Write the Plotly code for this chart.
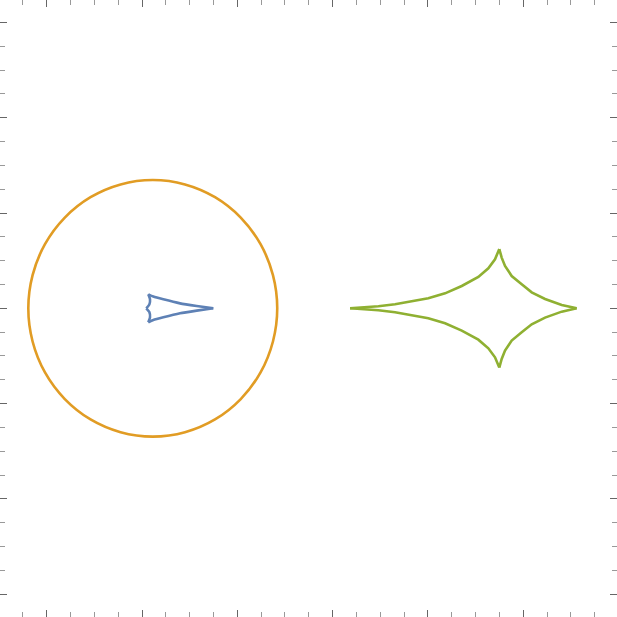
import plotly.graph_objects as go

# values (1 unit = one major tick)
circle_x = [2.419, 2.374, 2.244, 2.036, 1.766, 1.451, 1.113, 0.775, 0.460, 0.190, -0.018, -0.148, -0.193,
            -0.148, -0.018, 0.190, 0.460, 0.775, 1.113, 1.451, 1.766, 2.036, 2.244, 2.374, 2.419]
circle_y = [0, 0.348, 0.673, 0.952, 1.166, 1.300, 1.346, 1.300, 1.166, 0.952, 0.673, 0.348, 0,
            -0.348, -0.673, -0.952, -1.166, -1.300, -1.346, -1.300, -1.166, -0.952, -0.673, -0.348, 0]

# small caustic, drawn cusp to cusp
blue_x = [1.748, 1.574, 1.399, 1.224, 1.119, 1.066, None,
          1.066, 1.084, 1.077, 1.045, None,
          1.045, 1.077, 1.084, 1.066, None,
          1.066, 1.119, 1.224, 1.399, 1.574, 1.748]
blue_y = [0, 0.024, 0.052, 0.094, 0.123, 0.147, None,
          0.147, 0.095, 0.040, 0, None,
          0, -0.040, -0.095, -0.147, None,
          -0.147, -0.123, -0.094, -0.052, -0.024, 0]

# large caustic, drawn cusp to cusp
green_x = [3.183, 3.305, 3.480, 3.655, 3.830, 4.004, 4.180, 4.355, 4.529, 4.634, 4.704, 4.749, None,
           4.749, 4.774, 4.809, 4.879, 4.984, 5.089, 5.229, 5.404, 5.561, None,
           5.561, 5.404, 5.229, 5.089, 4.984, 4.879, 4.809, 4.774, 4.749, None,
           4.749, 4.704, 4.634, 4.529, 4.355, 4.180, 4.004, 3.830, 3.655, 3.480, 3.305, 3.183]
green_y = [0, 0.007, 0.021, 0.042, 0.070, 0.105, 0.157, 0.234, 0.329, 0.420, 0.514, 0.622, None,
           0.622, 0.532, 0.444, 0.339, 0.252, 0.168, 0.098, 0.035, 0, None,
           0, -0.035, -0.098, -0.168, -0.252, -0.339, -0.444, -0.532, -0.622, None,
           -0.622, -0.514, -0.420, -0.329, -0.234, -0.157, -0.105, -0.070, -0.042, -0.021, -0.007, 0]

fig = go.Figure()
fig.add_trace(go.Scatter(x=blue_x, y=blue_y, mode='lines', line=dict(color='#5E81B5', width=2.6, shape='spline', smoothing=0.6),
                         connectgaps=False))
fig.add_trace(go.Scatter(x=circle_x, y=circle_y, mode='lines', line=dict(color='#E19C24', width=2.6, shape='spline')))
fig.add_trace(go.Scatter(x=green_x, y=green_y, mode='lines',
                         line=dict(color='#8FB032', width=2.6, shape='linear'),
                         connectgaps=False))

axis = dict(showgrid=False, zeroline=False, showline=False, showticklabels=False,
            ticks='inside', ticklen=7, tickwidth=1, tickcolor='#666666', tick0=0, dtick=1, mirror='ticks',
            minor=dict(ticks='inside', ticklen=5, tickwidth=1, tickcolor='#999999', dtick=0.25, showgrid=False))

fig.update_layout(width=617, height=617, margin=dict(l=0, r=0, t=0, b=0),
                  paper_bgcolor='white', plot_bgcolor='white', showlegend=False,
                  xaxis=dict(axis, range=[-0.490, 5.984]),
                  yaxis=dict(axis, range=[-3.239, 3.235]))

# drop the browser's default page margin so the chart fills the window
fig.write_html("out.html", config={'displayModeBar': False},
               post_script="document.body.style.margin='0px';")
